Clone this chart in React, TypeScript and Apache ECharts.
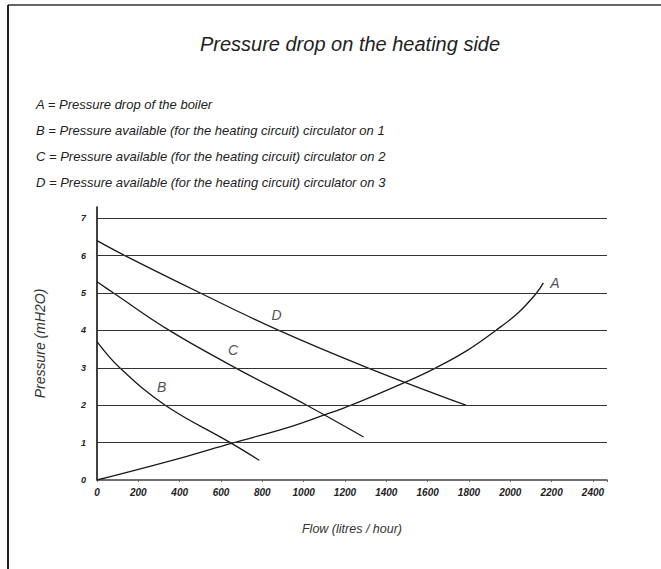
import React, { useEffect, useRef } from "react";
import * as echarts from "echarts";

const FONT = '"Liberation Sans", Arial, Helvetica, sans-serif';

const titleText = "Pressure drop on the heating side";
const legendLines = [
  "A = Pressure drop of the boiler",
  "B = Pressure available (for the heating circuit) circulator on 1",
  "C = Pressure available (for the heating circuit) circulator on 2",
  "D = Pressure available (for the heating circuit) circulator on 3",
];
const xAxisName = "Flow (litres / hour)";
const yAxisName = "Pressure (mH2O)";

const curveNames = ["A", "B", "C", "D"];
// [flow l/h, pressure mH2O]
const curveA = [
  [0, 0], [400, 0.58], [650, 0.98], [910, 1.38], [1090, 1.72], [1230, 2],
  [1490, 2.61], [1640, 3], [1790, 3.46], [1930, 4], [2040, 4.48], [2127, 5], [2160, 5.27],
];
const curveB = [[0, 3.7], [110, 3], [330, 2], [645, 1], [785, 0.53]];
const curveC = [[0, 5.3], [80, 5], [350, 4], [670, 3], [1015, 2], [1290, 1.15]];
const curveD = [[0, 6.4], [135, 6], [500, 5], [880, 4], [1310, 3], [1785, 2]];
const curveLabelPos = [[2216, 5.27], [313, 2.49], [658, 3.48], [869, 4.41]];

const pressureGridValues = [1, 2, 3, 4, 5, 6, 7];
const flowMax = 2468;
const flowStep = 200;
const pressureMax = 7.3;

export default function App() {
  const ref = useRef<HTMLDivElement>(null);
  useEffect(() => {
    if (!ref.current) return;
    const chart = echarts.init(ref.current, null, { renderer: "svg" });
    const curves = [curveA, curveB, curveC, curveD];
    const lineSeries: any[] = curves.map((data, i) => ({
      type: "line",
      name: curveNames[i],
      data,
      showSymbol: false,
      smooth: 0.4,
      lineStyle: { color: "#1a1a1a", width: 1.3 },
      z: 3,
    }));
    lineSeries.push({
      type: "line",
      name: "grid",
      data: [],
      z: 2,
      markLine: {
        silent: true,
        symbol: ["none", "none"],
        label: { show: false },
        lineStyle: { type: "solid", color: "#333", width: 1 },
        data: pressureGridValues.map((v) => ({ yAxis: v })),
      },
    });
    lineSeries.push({
      type: "scatter",
      name: "labels",
      symbolSize: 0,
      data: curveLabelPos.map((p, i) => [p[0], p[1], curveNames[i]]),
      label: {
        show: true,
        position: "inside",
        formatter: (p: any) => p.value[2],
        fontFamily: FONT,
        fontStyle: "italic",
        fontSize: 14,
        color: "#222",
      },
      z: 4,
    });

    chart.setOption({
      animation: false,
      backgroundColor: "#fff",
      grid: { left: 97, right: 661 - 607, top: 207, bottom: 569 - 480 },
      xAxis: {
        type: "value",
        min: 0,
        max: flowMax,
        interval: flowStep,
        name: xAxisName,
        nameLocation: "middle",
        nameGap: 42,
        nameTextStyle: { fontFamily: FONT, fontStyle: "italic", fontSize: 12.5, color: "#333" },
        axisLine: { show: true, lineStyle: { color: "#444", width: 1.5 } },
        axisTick: { show: true, length: 2, lineStyle: { color: "#666" } },
        splitLine: { show: false },
        axisLabel: {
          margin: 7,
          fontFamily: FONT,
          fontStyle: "italic",
          fontWeight: "bold",
          fontSize: 10,
          color: "#222",
          formatter: (v: number) => (v % flowStep === 0 ? String(v) : ""),
        },
      },
      yAxis: {
        type: "value",
        min: 0,
        max: pressureMax,
        interval: 1,
        name: yAxisName,
        nameLocation: "middle",
        nameGap: 50,
        nameTextStyle: { fontFamily: FONT, fontStyle: "italic", fontSize: 14, color: "#333" },
        axisLine: { show: true, lineStyle: { color: "#111", width: 1.6 } },
        axisTick: { show: false },
        splitLine: { show: false },
        axisLabel: {
          margin: 11,
          fontFamily: FONT,
          fontStyle: "italic",
          fontWeight: "bold",
          fontSize: 9,
          color: "#222",
          formatter: (v: number) => (Number.isInteger(v) ? String(v) : ""),
        },
      },
      graphic: [
        { type: "line", shape: { x1: 8, y1: 5, x2: 661, y2: 5 }, style: { stroke: "#666", lineWidth: 2 } },
        { type: "line", shape: { x1: 8, y1: 5, x2: 8, y2: 569 }, style: { stroke: "#222", lineWidth: 2 } },
        {
          type: "text",
          x: 350,
          y: 44,
          style: {
            text: titleText,
            font: `italic 20px ${FONT}`,
            fill: "#222",
            textAlign: "center",
            textVerticalAlign: "middle",
          },
        },
        ...legendLines.map((t, i) => ({
          type: "text",
          x: 36,
          y: 104 + 26 * i,
          style: {
            text: t,
            font: `italic 13px ${FONT}`,
            fill: "#222",
            textAlign: "left",
            textVerticalAlign: "middle",
          },
        })),
      ],
      series: lineSeries,
    });
    return () => chart.dispose();
  }, []);
  return (
    <div
      ref={ref}
      style={{ position: "absolute", left: 0, top: 0, width: 661, height: 569 }}
    />
  );
}
